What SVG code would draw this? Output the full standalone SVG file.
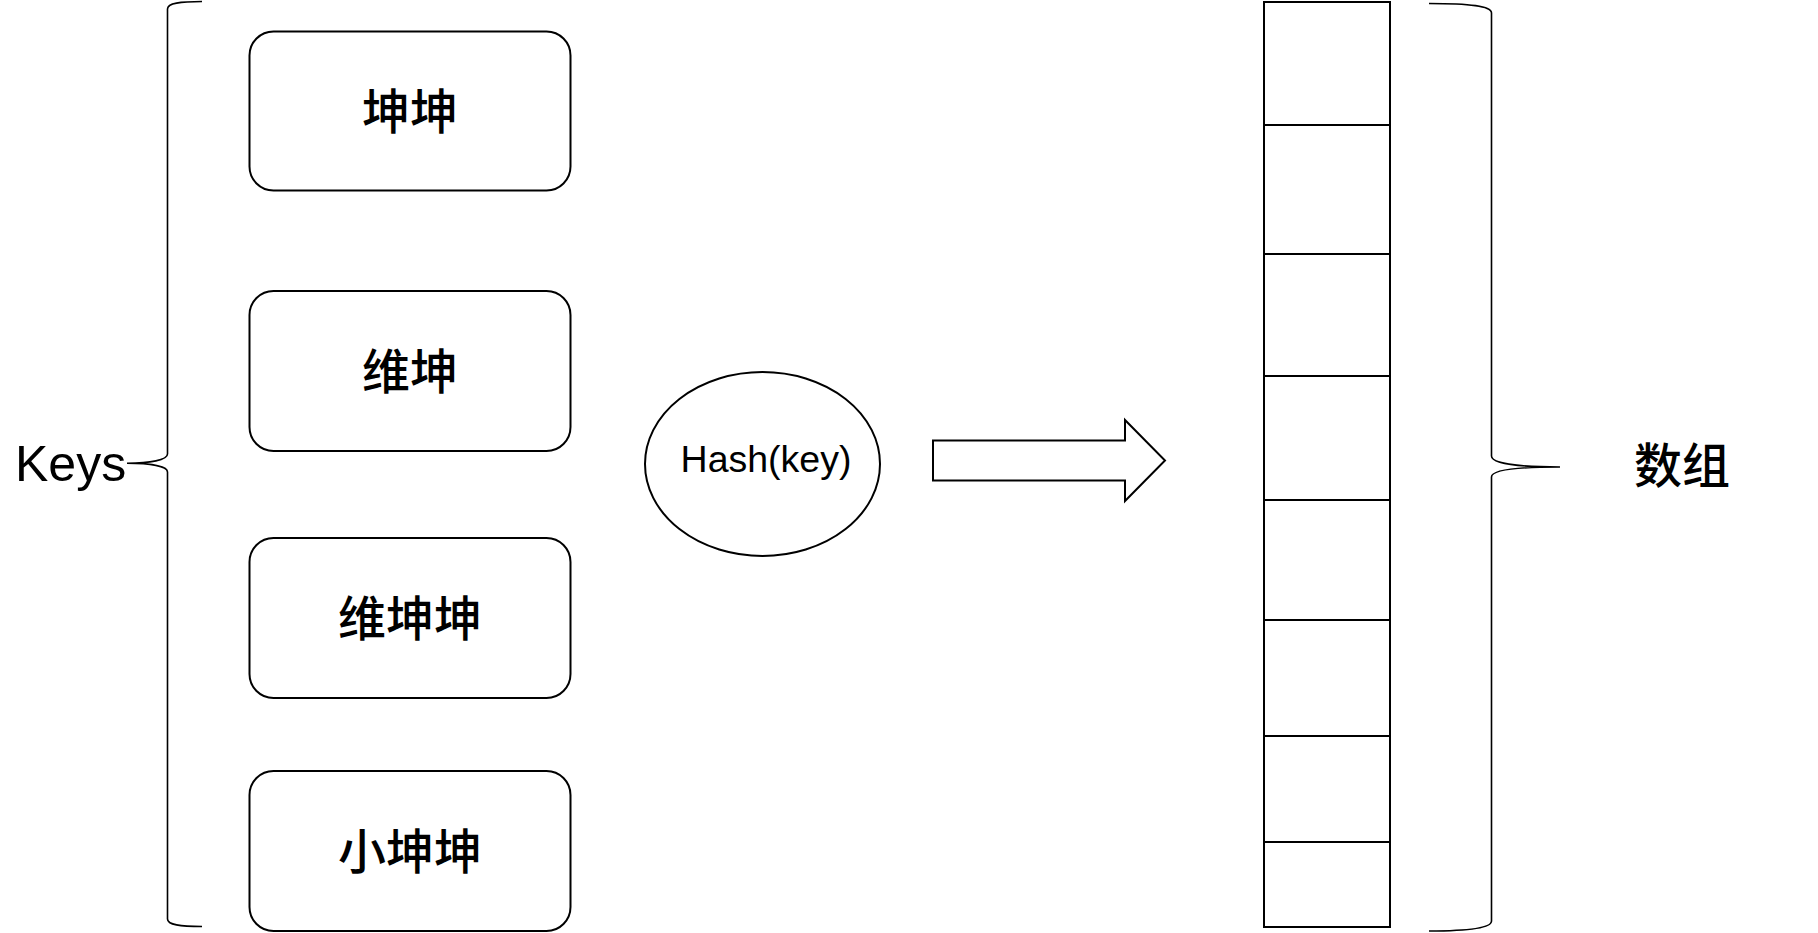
<svg xmlns="http://www.w3.org/2000/svg" width="1818" height="933" viewBox="0 0 1818 933">
<style>
.box{fill:#fff;stroke:#000;stroke-width:2}
.cell{fill:#fff;stroke:#000;stroke-width:2}
.brace{fill:none;stroke:#000;stroke-width:1.6}
.cjk{font-family:"Noto Sans CJK SC","Noto Sans",sans-serif;font-size:48px;font-weight:500;fill:#000;text-anchor:middle}
.lat{font-family:"Liberation Sans",Arial,sans-serif;fill:#000}
</style>
<rect width="1818" height="933" fill="#fff"/>
<g id="keys-label">
<text class="lat" x="15" y="481" font-size="50">Keys</text>
<path class="brace" d="M202,1.5 C180,1.5 167.5,3 167.5,9 L167.5,454 C167.5,460 150,463.3 127,463.3 C150,463.3 167.5,466 167.5,472 L167.5,919 C167.5,925 180,926.5 202,926.5"/>
</g>
<g id="key1"><rect class="box" x="249.5" y="31.5" width="321" height="159" rx="24"/><text class="cjk" x="410" y="128.5">坤坤</text></g>
<g id="key2"><rect class="box" x="249.5" y="291" width="321" height="160" rx="24"/><text class="cjk" x="410" y="389">维坤</text></g>
<g id="key3"><rect class="box" x="249.5" y="538" width="321" height="160" rx="24"/><text class="cjk" x="410" y="636">维坤坤</text></g>
<g id="key4"><rect class="box" x="249.5" y="771" width="321" height="160" rx="24"/><text class="cjk" x="410" y="869">小坤坤</text></g>
<g id="hash"><ellipse class="box" cx="762.5" cy="464" rx="117.5" ry="92"/><text class="lat" x="766" y="472" font-size="37.5" text-anchor="middle">Hash(key)</text></g>
<g id="connectors">
<path class="box" d="M933,440.5 L1125,440.5 L1125,420 L1165,460.5 L1125,501 L1125,480.5 L933,480.5 Z"/>
</g>
<g id="array">
<g id="cell1"><rect class="cell" x="1264" y="2" width="126" height="123"/></g>
<g id="cell2"><rect class="cell" x="1264" y="125" width="126" height="129"/></g>
<g id="cell3"><rect class="cell" x="1264" y="254" width="126" height="122"/></g>
<g id="cell4"><rect class="cell" x="1264" y="376" width="126" height="124"/></g>
<g id="cell5"><rect class="cell" x="1264" y="500" width="126" height="120"/></g>
<g id="cell6"><rect class="cell" x="1264" y="620" width="126" height="116"/></g>
<g id="cell7"><rect class="cell" x="1264" y="736" width="126" height="106"/></g>
<g id="cell8"><rect class="cell" x="1264" y="842" width="126" height="85"/></g>
</g>
<g id="array-label">
<path class="brace" d="M1429,3.5 C1470,3.5 1491.5,6 1491.5,13 L1491.5,456 C1491.5,463 1515,467 1560,467 C1515,467 1491.5,470 1491.5,477 L1491.5,921 C1491.5,928 1470,931 1429,931"/>
<text class="cjk" x="1682" y="483">数组</text>
</g>
</svg>
